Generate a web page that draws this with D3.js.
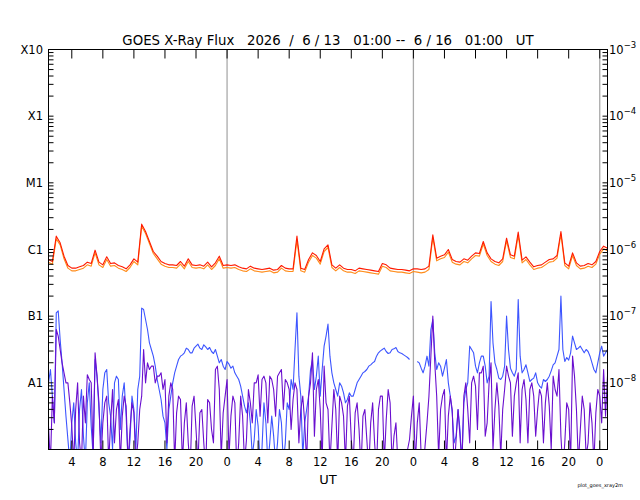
<!DOCTYPE html>
<html><head><meta charset="utf-8">
<script src="https://cdn.jsdelivr.net/npm/d3@7"></script>
<style>
body{margin:0;background:#fff}
svg{display:block}
text{font-family:"DejaVu Sans",sans-serif;fill:#000}
</style>
</head><body>
<svg id="chart" width="640" height="500"></svg>
<script>
// ---------- data (values are log10 of flux in W/m^2) ----------
const titleText = "GOES X-Ray Flux   2026  /  6 / 13   01:00 --  6 / 16   01:00   UT";
const startTime = "2026-06-13T01:00:00Z";
const endTime = "2026-06-16T01:00:00Z";
const longStepHours = 0.5;
const shortStepHours = 0.25;
const classLabels = ["A1","B1","C1","M1","X1","X10"];
const classExponents = [-8,-7,-6,-5,-4,-3];
const rightExponents = [-8,-7,-6,-5,-4,-3];
const xLabelText = "UT";
const creditText = "plot_goes_xray2m";

// long channel, primary (red), every 0.5 h
const longPrimary = [
 -6.15,-6.18,-5.80,-5.90,-6.10,-6.24,-6.28,-6.28,-6.26,-6.24,-6.19,-6.21,-6.01,-6.19,-6.23,-6.11,-6.21,-6.20,-6.24,-6.26,-6.29,-6.23,-6.14,-6.19,
 -5.62,-5.73,-5.88,-6.03,-6.10,-6.18,-6.21,-6.23,-6.23,-6.24,-6.18,-6.25,-6.14,-6.23,-6.24,-6.23,-6.25,-6.19,-6.26,-6.20,-6.10,-6.24,-6.23,-6.24,-6.23,
 -6.26,-6.28,-6.29,-6.25,-6.28,-6.29,-6.30,-6.29,-6.28,-6.31,-6.30,-6.24,-6.28,-6.29,-6.29,-5.80,-6.28,-6.30,-6.15,-6.05,-6.09,-6.18,-5.99,-5.93,
 -6.23,-6.28,-6.23,-6.28,-6.30,-6.30,-6.32,-6.28,-6.29,-6.30,-6.31,-6.32,-6.33,-6.21,-6.23,-6.28,-6.29,-6.30,-6.30,-6.31,-6.32,-6.29,
 -6.29,-6.30,-6.29,-6.25,-5.78,-6.13,-6.10,-6.08,-6.00,-6.15,-6.18,-6.19,-6.14,-6.16,-6.10,-6.05,-6.06,-5.88,-6.05,-6.14,-6.18,-6.20,-6.14,-5.83,-6.08,
 -6.10,-5.74,-6.16,-6.11,-6.19,-6.26,-6.24,-6.23,-6.19,-6.15,-6.14,-6.09,-5.73,-6.20,-6.25,-6.05,-6.20,-6.25,-6.24,-6.21,-6.23,-6.18,-6.03,-5.95,-5.98
];
// long channel, secondary (orange), every 0.5 h
const longSecondary = [
 -6.19,-6.22,-5.84,-5.93,-6.14,-6.28,-6.32,-6.32,-6.30,-6.28,-6.23,-6.25,-6.05,-6.23,-6.27,-6.15,-6.25,-6.24,-6.28,-6.30,-6.33,-6.27,-6.18,-6.23,
 -5.65,-5.76,-5.91,-6.06,-6.14,-6.22,-6.25,-6.27,-6.27,-6.28,-6.22,-6.29,-6.18,-6.27,-6.28,-6.27,-6.29,-6.23,-6.30,-6.24,-6.14,-6.28,-6.27,-6.28,-6.27,
 -6.30,-6.32,-6.33,-6.29,-6.32,-6.33,-6.34,-6.33,-6.32,-6.35,-6.34,-6.28,-6.32,-6.33,-6.33,-5.86,-6.32,-6.34,-6.19,-6.09,-6.13,-6.22,-6.03,-5.97,
 -6.27,-6.32,-6.27,-6.32,-6.34,-6.34,-6.36,-6.32,-6.33,-6.34,-6.35,-6.36,-6.37,-6.25,-6.27,-6.32,-6.33,-6.34,-6.34,-6.35,-6.36,-6.33,
 -6.34,-6.35,-6.34,-6.30,-5.82,-6.17,-6.14,-6.12,-6.04,-6.19,-6.22,-6.23,-6.18,-6.20,-6.14,-6.09,-6.10,-5.92,-6.09,-6.18,-6.22,-6.24,-6.18,-5.87,-6.12,
 -6.14,-5.79,-6.20,-6.15,-6.23,-6.30,-6.28,-6.27,-6.23,-6.19,-6.18,-6.13,-5.77,-6.24,-6.29,-6.09,-6.24,-6.29,-6.28,-6.25,-6.27,-6.22,-6.07,-5.99,-6.02
];
// short channel, primary (blue), every 0.25 h
const shortPrimary = [
 -8.00,-7.80,-8.20,-8.60,-6.95,-6.92,-7.35,-7.70,-8.10,-8.50,-8.85,-9.20,-8.60,-8.30,-8.90,-9.20,-8.40,-8.10,-8.80,-9.20,-8.30,-8.00,-8.65,-9.10,
 -7.65,-7.90,-8.40,-8.90,-8.10,-7.85,-7.80,-8.30,-8.50,-9.00,-8.00,-7.90,-7.95,-8.70,-8.20,-8.00,-8.50,-9.20,-8.85,-8.20,-8.40,-9.00,-8.10,-7.90,
 -6.88,-6.90,-7.05,-7.20,-7.40,-7.50,-7.60,-7.75,-7.95,-8.10,-8.25,-8.50,-8.60,-9.00,-8.40,-8.20,-8.00,-7.85,-7.75,-7.65,-7.60,-7.58,-7.55,-7.48,
 -7.50,-7.55,-7.55,-7.48,-7.45,-7.42,-7.48,-7.50,-7.43,-7.46,-7.50,-7.47,-7.53,-7.56,-7.50,-7.60,-7.70,-7.65,-7.75,-7.80,-7.68,-7.72,-7.78,-7.75,
 -7.85,
 -7.90,-7.95,-8.05,-8.20,-8.35,-8.45,-8.30,-8.60,-9.10,-8.85,-8.40,-8.65,-9.20,-8.98,-8.30,-8.60,-9.20,-8.90,-8.50,-8.80,-9.20,-8.90,-8.40,-8.60,
 -9.20,-8.90,-8.30,-8.40,-7.95,-8.10,-7.50,-6.95,-7.90,-8.20,-9.10,-8.60,-8.40,-8.20,-7.80,-7.65,-8.10,-7.90,-7.60,-8.20,-7.80,-7.45,-7.30,-7.12,
 -7.60,-7.85,-8.00,-8.10,-8.20,-8.00,-8.05,-8.15,-8.30,-8.25,-8.15,-8.20,-8.20,-8.10,-8.00,-7.95,-7.90,-7.85,-7.83,-7.80,-7.75,-7.73,-7.70,-7.68,
 -7.60,-7.55,-7.52,-7.50,-7.48,-7.53,-7.56,-7.55,-7.50,-7.49,-7.47,-7.53,-7.55,-7.56,-7.58,-7.60,-7.62,-7.65,null,null,
 null,-7.68,-7.70,-7.78,-7.85,-7.75,-7.60,-7.75,-7.20,-7.05,-7.55,-7.80,-7.70,-7.75,-7.90,-7.78,-7.65,-8.00,-8.20,-8.45,-8.90,-8.80,-8.40,-8.70,
 -9.20,-8.30,-8.10,-8.00,-7.45,-7.50,-7.55,-7.75,-7.85,-7.70,-7.60,-7.60,-7.75,-8.00,-7.90,-6.78,-7.40,-7.70,-7.80,-7.93,-7.95,-7.90,-7.75,-7.00,
 -7.50,-7.78,-7.85,-7.90,-7.80,-6.75,-7.60,-7.85,-7.80,-7.73,-7.85,-7.98,-7.95,-7.93,-7.85,-8.00,-8.05,-8.08,-7.95,-7.98,-7.95,-7.90,-7.82,-7.73,
 -7.70,-7.60,-7.50,-6.70,-7.50,-7.68,-7.62,-7.66,-7.55,-7.30,-7.40,-7.50,-7.48,-7.45,-7.50,-7.55,-7.50,-7.53,-7.60,-7.70,-7.80,-7.85,-7.70,-7.55,
 -7.45,-7.60,-7.55,-7.50
];
// short channel, secondary (purple), every 0.25 h
const shortSecondary = [
 -8.65,-9.20,-8.20,-8.60,-7.20,-7.30,-7.50,-7.70,-7.85,-8.00,-8.00,-8.30,-8.65,-9.20,-8.40,-8.00,-8.90,-9.20,-8.20,-8.60,-7.88,-7.95,-8.00,-9.10,
 -7.55,-7.90,-8.30,-9.20,-8.60,-8.30,-8.20,-9.20,-8.60,-8.10,-8.90,-8.40,-8.25,-9.20,-8.50,-8.20,-8.35,-9.20,-8.70,-8.30,-8.45,-9.20,-8.90,-8.40,
 -8.20,-7.50,-8.00,-7.70,-7.80,-7.75,-7.75,-8.00,-7.90,-7.90,-7.85,-8.10,-7.95,-8.90,-8.20,-8.00,-8.10,-9.20,-8.45,-8.20,-8.25,-9.20,-8.60,-8.30,
 -8.90,-9.30,-8.35,-8.20,-8.70,-9.20,-8.45,-8.40,-8.90,-9.30,-8.25,-8.30,-8.70,-8.90,-7.80,-7.75,-8.10,-9.10,-8.45,-8.20,-7.95,-9.10,-8.50,-8.20,
 -8.30,
 -9.30,-8.90,-8.20,-8.50,-9.20,-8.85,-8.10,-8.30,-8.60,-8.00,-8.00,-7.88,-8.50,-7.95,-7.90,-8.00,-8.60,-7.90,-7.95,-8.10,-8.50,-7.90,-7.85,-7.80,
 -8.40,-7.95,-8.00,-8.10,-8.70,-8.25,-8.00,-8.10,-8.90,-8.40,-8.20,-8.60,-9.20,-8.20,-8.00,-7.55,-8.80,-8.10,-7.95,-8.40,-9.20,-7.75,-8.30,-8.40,
 -9.20,-8.65,-8.10,-8.40,-9.20,-8.20,-8.30,-8.50,-9.20,-8.35,-8.20,-8.85,-9.20,-8.45,-8.30,-8.70,-9.30,-8.50,-8.40,-8.85,-9.30,-8.60,-8.30,-8.90,
 -9.30,-8.40,-8.20,-8.20,-9.20,-8.55,-8.10,-8.30,-9.20,-8.80,-8.60,-9.20,-9.30,-9.20,-9.30,-9.20,-9.00,-8.85,-8.50,-8.20,
 -9.20,-8.60,-8.30,-9.10,-9.30,-8.95,-8.60,-8.20,-7.60,-7.00,-7.70,-8.20,-9.10,-8.40,-8.20,-8.10,-9.20,-8.50,-8.20,-8.40,-9.30,-8.85,-8.40,-8.80,
 -9.20,-8.20,-8.00,-8.40,-8.90,-8.00,-7.90,-8.05,-8.70,-7.85,-7.85,-7.75,-8.80,-8.60,-8.00,-7.70,-9.00,-8.40,-8.00,-8.35,-9.10,-8.40,-8.10,-7.75,
 -7.90,-8.00,-8.80,-8.20,-8.00,-7.85,-8.90,-8.10,-7.95,-8.25,-8.90,-8.10,-8.00,-8.20,-8.80,-8.40,-8.10,-8.20,-8.90,-8.30,-8.00,-8.35,-9.00,-7.90,
 -8.10,-8.20,-7.80,-8.80,-9.30,-8.90,-8.30,-8.40,-9.20,-7.60,-7.90,-8.40,-9.20,-8.70,-8.20,-8.40,-9.10,-8.90,-8.30,-8.60,-9.20,-8.45,-8.10,-8.20,
 -8.60,-7.80,-8.50,-7.90
];

// ---------- drawing ----------
const svg = d3.select("#chart");
const L = 48.5, R = 607.5, T = 49.5, B = 449.5;
const t0 = new Date(startTime), t1 = new Date(endTime);
const x = d3.scaleUtc().domain([t0, t1]).range([L, R]);
const y = d3.scaleLog().domain([1e-9, 1e-3]).range([B, T]);

const toPoints = (arr, step) => arr.map((v, i) => ({
  t: new Date(t0.getTime() + i * step * 3600e3),
  f: v == null ? null : Math.pow(10, v)
}));

svg.append("defs").append("clipPath").attr("id", "clip")
  .append("rect").attr("x", L).attr("y", T).attr("width", R - L).attr("height", B - T);

// horizontal class grid lines
svg.append("g").selectAll("line").data(classExponents.filter(e => e > -3)).join("line")
  .attr("x1", L).attr("x2", R)
  .attr("y1", e => y(Math.pow(10, e))).attr("y2", e => y(Math.pow(10, e)))
  .attr("stroke", e => e === -6 ? "#9fd3f7" : "#5cb6f0")
  .attr("stroke-width", e => e === -6 ? 2 : 1);

// day boundary lines
svg.append("g").selectAll("line").data(d3.utcDay.range(t0, t1)).join("line")
  .attr("x1", d => x(d)).attr("x2", d => x(d))
  .attr("y1", T).attr("y2", B)
  .attr("stroke", "#aaaaaa").attr("stroke-width", 1.3);

// data lines
const line = d3.line().defined(d => d.f != null && d.f > 0)
  .x(d => x(d.t)).y(d => y(d.f));
const series = [
  {data: longSecondary, step: longStepHours, color: "#ff8c1a"},
  {data: longPrimary, step: longStepHours, color: "#ff1a00"},
  {data: shortPrimary, step: shortStepHours, color: "#3d55ff"},
  {data: shortSecondary, step: shortStepHours, color: "#6a0fcf"}
];
const gData = svg.append("g").attr("clip-path", "url(#clip)");
series.forEach(s => {
  gData.append("path").datum(toPoints(s.data, s.step))
    .attr("fill", "none").attr("stroke", s.color)
    .attr("stroke-width", 1.1).attr("stroke-linejoin", "round")
    .attr("d", line);
});

// frame
svg.append("rect").attr("x", L).attr("y", T).attr("width", R - L).attr("height", B - T)
  .attr("fill", "none").attr("stroke", "#000").attr("stroke-width", 1);

// x ticks (every 4 hours, inward top and bottom)
const xTicks = x.ticks(d3.utcHour.every(4));
const gx = svg.append("g");
gx.selectAll("line.b").data(xTicks).join("line").attr("class", "b")
  .attr("x1", d => x(d)).attr("x2", d => x(d)).attr("y1", B).attr("y2", B - 9)
  .attr("stroke", "#000");
gx.selectAll("line.t").data(xTicks).join("line").attr("class", "t")
  .attr("x1", d => x(d)).attr("x2", d => x(d)).attr("y1", T).attr("y2", T + 9)
  .attr("stroke", "#000");
gx.selectAll("text").data(xTicks).join("text")
  .attr("x", d => x(d)).attr("y", 466).attr("text-anchor", "middle")
  .attr("font-size", 11.5).text(d3.utcFormat("%-H"));

// y minor ticks on both sides
const yTicks = [];
for (let e = -9; e < -3; e++) for (let k = 1; k <= 9; k++) yTicks.push(k * Math.pow(10, e));
yTicks.push(1e-3);
const gy = svg.append("g");
gy.selectAll("line.l").data(yTicks).join("line").attr("class", "l")
  .attr("x1", L).attr("x2", L + 5).attr("y1", d => y(d)).attr("y2", d => y(d)).attr("stroke", "#000");
gy.selectAll("line.r").data(yTicks).join("line").attr("class", "r")
  .attr("x1", R).attr("x2", R - 5).attr("y1", d => y(d)).attr("y2", d => y(d)).attr("stroke", "#000");

// left class labels
svg.append("g").selectAll("text").data(classLabels).join("text")
  .attr("x", 43).attr("y", (d, i) => y(Math.pow(10, classExponents[i])) + 4)
  .attr("text-anchor", "end").attr("font-size", 11.5).text(d => d);

// right exponent labels
const gr = svg.append("g").selectAll("text").data(rightExponents).join("text")
  .attr("x", 609).attr("y", e => y(Math.pow(10, e)) + 4).attr("font-size", 11.5);
gr.append("tspan").text("10");
gr.append("tspan").attr("dy", -6).attr("font-size", 8.5).text(e => "\u2212" + (-e));

// title
svg.append("text").attr("x", 328).attr("y", 45).attr("text-anchor", "middle")
  .attr("font-size", 13.3).style("white-space", "pre").text(titleText);

// x label
svg.append("text").attr("x", 328).attr("y", 484).attr("text-anchor", "middle")
  .attr("font-size", 13).text(xLabelText);

// credit
svg.append("text").attr("x", 623).attr("y", 487).attr("text-anchor", "end")
  .attr("font-size", 5).text(creditText);
</script>
</body></html>
